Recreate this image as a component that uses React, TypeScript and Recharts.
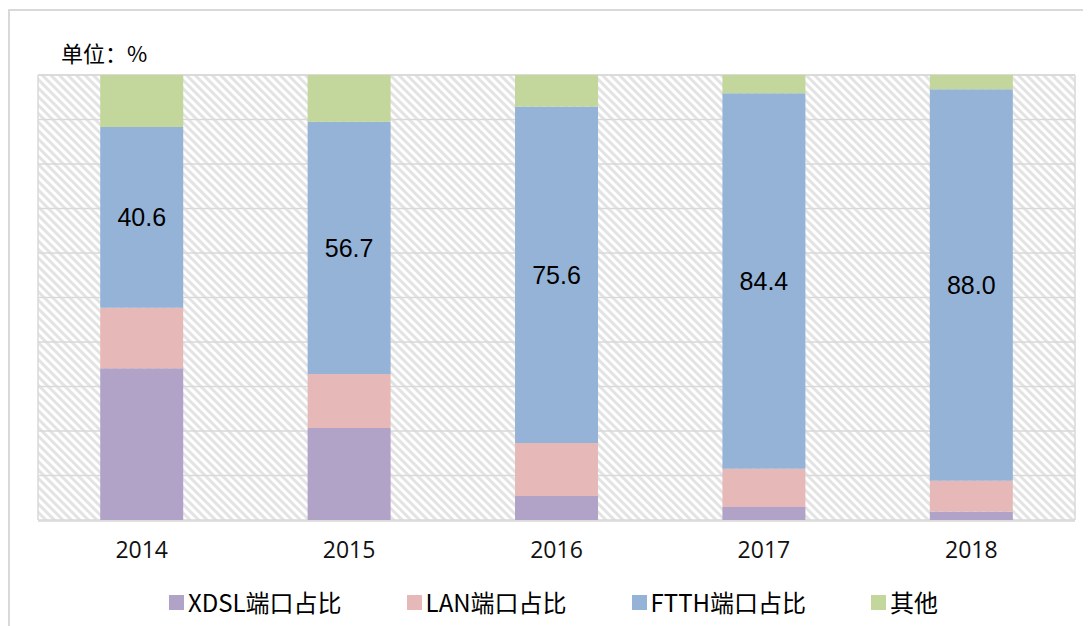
import { Bar, BarChart, CartesianGrid, LabelList, Legend, XAxis, YAxis } from "recharts";

const years = ["2014", "2015", "2016", "2017", "2018"];
const xdslShare = [34.1, 20.7, 5.4, 2.9, 1.9];
const lanShare = [13.6, 12.1, 11.9, 8.6, 6.9];
const ftthShare = [40.6, 56.7, 75.6, 84.4, 88.0];
const otherShare = [11.7, 10.5, 7.1, 4.1, 3.2];

const yTicks = [0, 10, 20, 30, 40, 50, 60, 70, 80, 90, 100];
const edgeTicks = [0, 1, 2, 3, 4, 5];
const edgeDomain = [0, 5];
const yDomain = [0, 100];

const series = [
  { key: "xdsl", label: "XDSL端口占比", color: "#b1a2c7" },
  { key: "lan", label: "LAN端口占比", color: "#e6b9b8" },
  { key: "ftth", label: "FTTH端口占比", color: "#95b3d7" },
  { key: "other", label: "其他", color: "#c3d69b" }
];

const data = years.map((year, i) => ({
  year,
  xdsl: xdslShare[i],
  lan: lanShare[i],
  ftth: ftthShare[i],
  other: otherShare[i]
}));

const gridColor = "#d9d9d9";
const yearTick = { fill: "#111", fontSize: 23, fontFamily: '"Open Sans", sans-serif' };
const legendWrapper = { bottom: 6 };

function LegendRow() {
  return (
    <div
      style={{
        display: "flex",
        justifyContent: "center",
        alignItems: "center",
        height: 30,
        paddingRight: 6,
        fontFamily: '"Noto Sans CJK SC", "Noto Sans", sans-serif',
        fontSize: 24,
        color: "#000"
      }}
    >
      {series.map((s, i) => (
        <div key={s.key} style={{ display: "flex", alignItems: "center", marginLeft: i === 0 ? 0 : 65 }}>
          <span style={{ width: 15, height: 15, background: s.color, marginRight: 4, display: "inline-block" }} />
          <span style={{ lineHeight: "30px" }}>{s.label}</span>
        </div>
      ))}
    </div>
  );
}

export default function App() {
  return (
    <div
      style={{
        position: "relative",
        width: 1100,
        height: 640,
        marginTop: 1,
        border: `2px solid ${gridColor}`,
        background: "#fff"
      }}
    >
      <svg width={0} height={0} style={{ position: "absolute" }}>
        <defs>
          <pattern id="hatch" width={6} height={6} patternUnits="userSpaceOnUse" patternTransform="rotate(-45)">
            <rect x={0} y={0} width={6} height={6} fill="#ffffff" />
            <rect x={0} y={0} width={3} height={6} fill="#e3e3e3" />
          </pattern>
        </defs>
      </svg>
      <div
        style={{
          position: "absolute",
          left: 51,
          top: 29,
          fontFamily: '"Noto Sans CJK SC", sans-serif',
          fontSize: 22,
          lineHeight: "24px",
          color: "#000"
        }}
      >
        单位：%
      </div>
      <BarChart
        width={1080}
        height={612}
        data={data}
        margin={{ top: 64, right: 15, bottom: 71, left: 28 }}
        barCategoryGap="30%"
      >
        <CartesianGrid
          xAxisId="edge"
          stroke={gridColor}
          strokeWidth={1.5}
          fill="url(#hatch)"
          fillOpacity={1}
        />
        <XAxis
          xAxisId="edge"
          type="number"
          domain={edgeDomain}
          ticks={edgeTicks}
          tick={false}
          tickSize={8}
          height={1}
          stroke={gridColor}
          strokeWidth={1.5}
        />
        <XAxis
          xAxisId="cat"
          dataKey="year"
          axisLine={false}
          tickLine={false}
          tickSize={0}
          tickMargin={22}
          height={1}
          tick={yearTick}
        />
        <YAxis hide domain={yDomain} ticks={yTicks} />
        <Legend verticalAlign="bottom" wrapperStyle={legendWrapper} content={() => <LegendRow />} />
        {series.map((s) => (
          <Bar key={s.key} xAxisId="cat" dataKey={s.key} name={s.label} stackId="a" fill={s.color} isAnimationActive={false}>
            {s.key === "ftth" ? (
              <LabelList
                dataKey="ftth"
                position="center"
                formatter={(v: number) => v.toFixed(1)}
                style={{ fill: "#000", fontSize: 25, fontFamily: '"Liberation Sans", Arial, sans-serif' }}
              />
            ) : null}
          </Bar>
        ))}
      </BarChart>
    </div>
  );
}
